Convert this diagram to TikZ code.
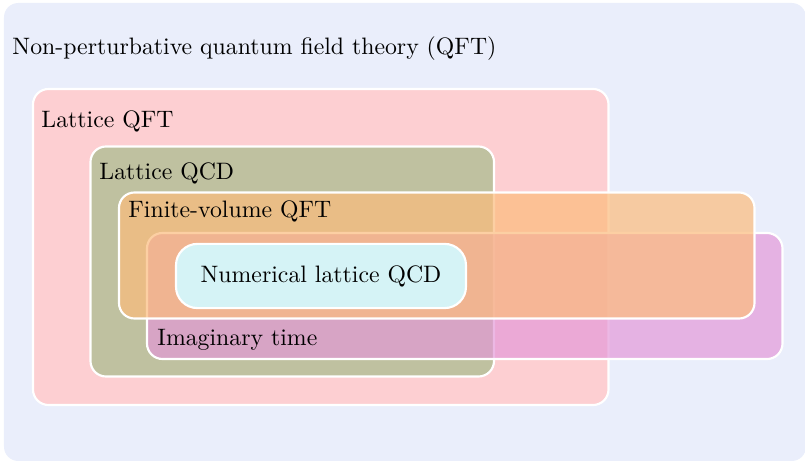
\documentclass[tikz,border=0pt]{standalone}
\usepackage{xcolor}
\usepackage{tikz}
\usetikzlibrary{positioning}

\definecolor{qftblue}{RGB}{234,238,251}
\definecolor{latpink}{RGB}{253,207,210}
\definecolor{qcdolive}{RGB}{191,193,160}
\definecolor{fvorange}{RGB}{252,188,124}
\definecolor{itviolet}{RGB}{227,151,216}
\definecolor{numcyan}{RGB}{213,243,246}

\begin{document}
\begin{tikzpicture}[
      x=0.01479cm, y=-0.01479cm,
      region/.style={draw=white, line width=0.9pt, rounded corners=6.5pt},
      lbl/.style={anchor=base west, inner sep=0pt},
    ]
    \useasboundingbox (0,0) rectangle (805,461);

    % Outer region: non-perturbative QFT
    \fill[qftblue, rounded corners=6pt] (4,3) rectangle (806,461);

    % Nested regions
    \draw[region, fill=latpink]  (33,89)   rectangle (608.5,405);
    \draw[region, fill=qcdolive] (90.5,146.5) rectangle (494,376.5);
    \draw[region, fill=itviolet, fill opacity=0.68] (147,233) rectangle (782.5,359);
    \draw[region, fill=fvorange, fill opacity=0.7]  (119,192.5) rectangle (754.5,318.5);

    % Innermost: numerical lattice QCD
    \node[region, fill=numcyan, rounded corners=9pt,
          minimum width=122pt, minimum height=27pt, inner sep=0pt]
      (nlqcd) at (321,276) {Numerical lattice QCD};

    % Region labels
    \node[lbl] (npqft) at (12,55)    {Non-perturbative quantum field theory (QFT)};
    \node[lbl] (lqft)  at (41,128)   {Lattice QFT};
    \node[lbl] (lqcd)  at (99,180)   {Lattice QCD};
    \node[lbl] (fvqft) at (128,217.3) {Finite-volume QFT};
    \node[lbl] (imt)   at (157,346)  {Imaginary time};

    \end{tikzpicture}
\end{document}
